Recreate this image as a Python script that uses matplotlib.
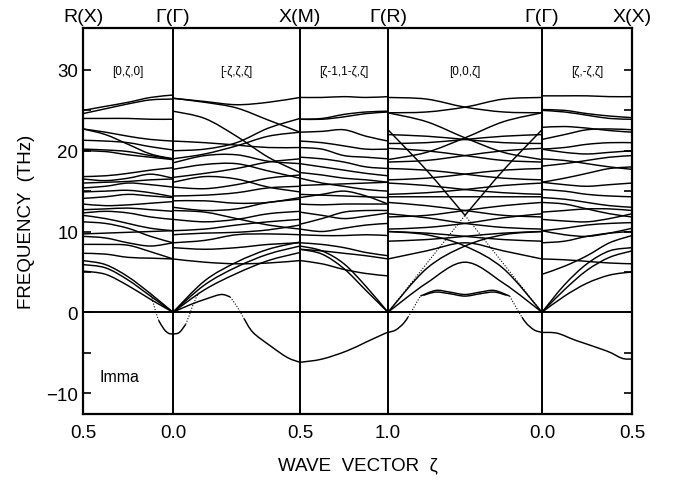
import numpy as np
import matplotlib
matplotlib.use("Agg")
import matplotlib.pyplot as plt
from matplotlib.path import Path
from matplotlib.patches import PathPatch
from matplotlib.transforms import blended_transform_factory

plt.rcParams['font.family'] = ['Liberation Sans', 'DejaVu Sans']

# high-symmetry points (x positions proportional to path length in the figure)
node_x = [0.0, 0.5, 1.2056, 1.6944, 2.55, 3.05]
node_top = ['R(X)', 'Γ(Γ)', 'X(M)', 'Γ(R)', 'Γ(Γ)', 'X(X)']
node_bottom = ['0.5', '0.0', '0.5', '1.0', '0.0', '0.5']
seg_names = ['[0,ζ,0]', '[-ζ,ζ,ζ]', '[ζ-1,1-ζ,ζ]', '[0,0,ζ]', '[ζ,-ζ,ζ]']

# sampling of each segment (fraction of segment length)
t_pts = [0.0, 0.25, 0.5, 0.75, 1.0]

# frequencies (THz) read at t_pts for each branch, segment by segment
seg1 = [
    [25.0, 25.5, 26.0, 26.6, 26.9], [24.6, 25.2, 25.8, 26.3, 26.4],
    [24.0, 24.0, 24.0, 23.9, 23.9], [22.7, 22.3, 21.8, 21.4, 21.2],
    [22.7, 22.0, 20.8, 19.6, 19.0], [21.3, 21.2, 21.0, 20.5, 20.1],
    [20.2, 20.1, 19.9, 19.4, 19.0], [20.0, 19.9, 19.5, 19.2, 18.9],
    [16.8, 16.9, 17.2, 17.6, 17.9], [16.5, 16.3, 16.6, 17.1, 16.6],
    [16.0, 16.1, 16.2, 16.4, 16.5], [15.4, 15.6, 16.0, 15.8, 15.5],
    [14.9, 15.0, 15.1, 14.8, 14.3], [14.1, 14.3, 14.6, 14.4, 14.2],
    [13.4, 13.2, 13.3, 13.5, 13.7], [12.7, 12.8, 12.9, 12.7, 12.5],
    [12.3, 12.5, 12.3, 11.8, 11.5], [12.0, 11.6, 11.0, 10.4, 10.1],
    [11.2, 11.0, 10.4, 9.4, 8.6], [9.7, 9.8, 9.9, 10.0, 10.1],
    [9.4, 9.2, 8.6, 8.2, 8.6], [8.4, 8.4, 8.3, 7.5, 6.6],
    [7.3, 7.2, 6.8, 6.7, 6.6], [6.4, 5.9, 4.4, 2.3, 0.0],
    [5.9, 5.5, 4.0, 2.0, 0.0], [5.1, 4.7, 3.3, 1.6, 0.0],
]
seg2 = [
    [26.5, 26.1, 25.7, 26.0, 26.6], [26.5, 26.0, 25.3, 23.8, 22.3],
    [24.9, 24.0, 21.8, 19.2, 17.3], [21.2, 21.0, 20.7, 20.4, 20.4],
    [20.0, 20.2, 21.0, 22.8, 24.0], [19.0, 19.6, 20.6, 21.8, 22.3],
    [18.5, 19.4, 19.5, 18.7, 18.4], [17.7, 18.3, 18.4, 17.5, 16.6],
    [16.7, 17.2, 17.8, 18.6, 19.0], [16.1, 16.8, 16.5, 15.5, 14.9],
    [15.5, 15.3, 15.8, 16.6, 17.0], [14.4, 14.5, 14.8, 15.4, 15.6],
    [13.8, 13.8, 13.5, 13.6, 14.2], [13.0, 12.6, 12.8, 13.6, 14.0],
    [12.6, 12.4, 11.6, 10.8, 10.3], [11.5, 11.2, 11.5, 12.2, 12.5],
    [10.1, 10.3, 10.8, 11.2, 11.5], [9.6, 9.8, 9.9, 10.2, 10.8],
    [8.6, 8.9, 9.6, 9.7, 9.6], [8.0, 7.8, 8.0, 8.4, 8.6],
    [6.6, 6.2, 6.0, 6.1, 6.4], [0.0, 3.9, 6.2, 7.8, 8.7],
    [0.0, 3.4, 5.6, 7.2, 8.2], [0.0, 2.8, 4.8, 6.4, 7.4],
]
seg3 = [
    [26.6, 26.6, 26.7, 26.6, 26.7], [23.9, 24.0, 24.5, 24.8, 24.9],
    [23.9, 23.9, 24.2, 24.6, 24.8], [22.3, 22.4, 22.6, 21.8, 21.2],
    [21.2, 21.0, 20.6, 20.2, 20.2], [20.4, 20.2, 19.4, 19.2, 19.0],
    [19.2, 19.0, 18.6, 18.0, 17.8], [18.4, 18.0, 17.6, 17.2, 16.9],
    [17.3, 17.0, 16.6, 16.4, 16.1], [16.6, 16.0, 15.6, 15.2, 15.0],
    [15.7, 15.8, 15.9, 16.0, 16.1], [14.6, 14.5, 14.4, 14.3, 14.2],
    [14.2, 14.6, 15.0, 14.4, 13.4], [13.4, 13.3, 13.4, 13.4, 13.4],
    [12.4, 12.0, 11.6, 11.9, 12.3], [10.9, 11.6, 12.4, 12.6, 12.6],
    [10.3, 10.0, 10.4, 10.8, 11.0], [9.6, 9.5, 9.5, 9.6, 9.5],
    [8.6, 8.4, 8.0, 7.4, 7.0], [7.8, 7.6, 7.3, 7.0, 6.6],
    [6.4, 6.0, 5.3, 4.8, 4.5], [8.2, 7.6, 6.0, 3.2, 0.0],
    [7.8, 7.2, 5.4, 2.7, 0.0],
]
seg4 = [
    [26.6, 26.4, 25.4, 24.8, 24.7], [24.7, 24.8, 25.4, 26.4, 26.6],
    [24.7, 23.6, 21.6, 19.8, 18.9], [18.9, 19.8, 21.6, 23.6, 24.7],
    [22.0, 21.8, 21.4, 21.0, 20.9], [20.9, 21.0, 21.4, 21.8, 22.0],
    [20.3, 20.0, 19.4, 18.8, 18.6], [18.6, 18.8, 19.4, 20.0, 20.3],
    [17.8, 17.6, 17.1, 16.6, 16.4], [16.4, 16.6, 17.1, 17.6, 17.8],
    [16.0, 15.7, 15.2, 14.8, 14.6], [14.6, 14.8, 15.2, 15.7, 16.0],
    [14.3, 14.3, 14.3, 14.3, 14.3], [13.6, 13.2, 12.6, 12.0, 11.8],
    [11.8, 12.0, 12.6, 13.2, 13.6], [12.2, 11.7, 11.0, 10.5, 10.3],
    [10.3, 10.5, 11.0, 11.7, 12.2], [10.0, 9.8, 9.4, 9.0, 8.8],
    [8.8, 9.0, 9.4, 9.8, 10.0], [6.6, 7.6, 8.6, 7.6, 6.6],
    [0.0, 3.6, 6.2, 3.6, 0.0], [0.0, 5.4, 8.2, 9.6, 10.0],
    [10.0, 9.6, 8.2, 5.4, 0.0],
]
seg5 = [
    [26.8, 26.8, 26.8, 26.7, 26.7], [25.1, 25.0, 24.6, 24.3, 24.1],
    [25.0, 24.8, 24.4, 24.0, 23.9], [22.9, 23.0, 22.8, 22.5, 22.3],
    [21.4, 22.0, 22.6, 22.7, 22.6], [20.2, 20.4, 20.8, 21.0, 21.0],
    [20.2, 19.8, 19.6, 19.8, 20.0], [19.0, 18.8, 18.4, 18.0, 17.7],
    [18.1, 18.4, 18.8, 19.2, 19.4], [16.1, 16.6, 17.2, 17.8, 18.0],
    [16.1, 15.8, 15.6, 15.8, 16.0], [15.2, 15.0, 14.6, 14.4, 14.3],
    [14.2, 14.0, 13.6, 13.2, 13.0], [13.6, 13.4, 12.8, 12.2, 11.8],
    [12.4, 12.6, 12.8, 12.8, 12.6], [11.5, 11.3, 11.2, 11.6, 12.2],
    [10.1, 10.4, 10.8, 11.0, 11.1], [10.1, 9.6, 9.4, 9.8, 10.4],
    [8.6, 8.8, 9.4, 9.8, 10.0], [6.6, 6.5, 6.3, 6.1, 6.0],
    [4.7, 5.7, 7.0, 8.6, 9.5], [0.0, 3.4, 6.0, 7.6, 8.0],
    [0.0, 2.8, 5.2, 6.8, 7.6], [0.0, 2.0, 3.6, 4.6, 5.0],
]
bands = [seg1, seg2, seg3, seg4, seg5]

# soft (unstable) modes and weak branches: (segment, t values, freq values, dotted?)
soft_modes = [
    (0, [0.75, 0.78, 0.81, 0.84], [2.4, 1.2, 0.0, -1.0], True),
    (0, [0.84, 0.90, 0.95, 1.0], [-1.0, -2.1, -2.6, -2.7], False),
    (1, [0.0, 0.05, 0.10], [-2.7, -2.5, -1.5], False),
    (1, [0.10, 0.13, 0.16, 0.20], [-1.5, -0.3, 1.0, 2.4], True),
    (1, [0.0, 0.13, 0.27, 0.38, 0.45], [0.0, 0.9, 1.7, 2.2, 1.9], False),
    (1, [0.45, 0.50, 0.53, 0.56], [1.9, 0.8, 0.0, -0.8], True),
    (1, [0.56, 0.63, 0.77, 0.90, 1.0], [-0.8, -2.5, -4.2, -5.6, -6.2], False),
    (2, [0.0, 0.25, 0.53, 0.75, 0.97, 1.0], [-6.2, -5.8, -4.8, -3.7, -2.6, -2.5], False),
    (3, [0.0, 0.05, 0.10, 0.13], [-2.5, -2.2, -1.4, -0.6], False),
    (3, [0.13, 0.15, 0.18, 0.21], [-0.6, 0.0, 1.0, 2.0], True),
    (3, [0.21, 0.31, 0.40, 0.50, 0.60, 0.69, 0.79], [2.0, 2.7, 2.5, 2.2, 2.5, 2.7, 2.0], False),
    (3, [0.23, 0.31, 0.40, 0.50, 0.60, 0.69, 0.77], [2.1, 2.5, 2.3, 2.0, 2.3, 2.5, 2.1], False),
    (3, [0.79, 0.82, 0.85, 0.87], [2.0, 1.0, 0.0, -0.6], True),
    (3, [0.87, 0.90, 0.95, 1.0], [-0.6, -1.4, -2.2, -2.5], False),
    (3, [0.0, 0.25, 0.50], [0.0, 6.0, 12.0], True),
    (3, [0.50, 0.75, 1.0], [12.0, 17.6, 22.6], False),
    (3, [0.50, 0.75, 1.0], [12.0, 6.0, 0.0], True),
    (3, [0.0, 0.25, 0.50], [22.6, 17.6, 12.0], False),
    (4, [0.0, 0.17, 0.38, 0.72, 0.89, 1.0], [-2.5, -2.6, -3.5, -4.8, -5.7, -5.8], False),
]


def seg_x(i, t):
    x0, x1 = node_x[i], node_x[i + 1]
    return [x0 + tt * (x1 - x0) for tt in t]


def smooth_path(xs, ys):
    # Catmull-Rom through the read points, drawn as cubic Bezier pieces
    p = np.column_stack([xs, ys])
    p = np.vstack([p[0], p, p[-1]])
    verts = [p[1]]
    codes = [Path.MOVETO]
    for k in range(1, len(p) - 2):
        c1 = p[k] + (p[k + 1] - p[k - 1]) / 6
        c2 = p[k + 1] - (p[k + 2] - p[k]) / 6
        verts += [c1, c2, p[k + 1]]
        codes += [Path.CURVE4] * 3
    return Path(verts, codes)


fig = plt.figure(figsize=(6.77, 4.81), dpi=100)
ax = fig.add_axes([0.1226, 0.1372, 0.8109, 0.8025])

for i, seg in enumerate(bands):
    xs = seg_x(i, t_pts)
    for ys in seg:
        ax.add_patch(PathPatch(smooth_path(xs, ys), fill=False, lw=1.05, ec='black'))

for i, t, f, dotted in soft_modes:
    ax.add_patch(PathPatch(smooth_path(seg_x(i, t), f), fill=False,
                           lw=0.8 if dotted else 1.05, ec='black',
                           ls=(0, (1, 1.5)) if dotted else '-'))

for x in node_x[1:-1]:
    ax.axvline(x, color='black', lw=1.4)
ax.axhline(0, color='black', lw=1.4)

ax.set_xlim(node_x[0], node_x[-1])
ax.set_ylim(-12.6, 35.2)
ax.set_xticks(node_x)
ax.set_xticklabels(node_bottom, fontsize=13.5)
ax.set_yticks([-10, 0, 10, 20, 30])
ax.set_yticks([-5, 5, 15, 25], minor=True)
ax.tick_params(axis='y', which='both', direction='in', left=True, right=True,
               length=6, width=1.2, labelsize=13.5)
ax.tick_params(axis='x', direction='in', length=0, pad=7)
for s in ax.spines.values():
    s.set_linewidth(1.6)

tr = blended_transform_factory(ax.transData, ax.transAxes)
for x, lab in zip(node_x, node_top):
    ax.text(x, 1.008, lab, transform=tr, ha='center', va='bottom', fontsize=14)
for i, name in enumerate(seg_names):
    ax.text((node_x[i] + node_x[i + 1]) / 2, 29.9, name, ha='center', va='center', fontsize=8.5)
ax.text(0.09, -7.9, 'Imma', ha='left', va='center', fontsize=11.5)

ax.set_ylabel('FREQUENCY  (THz)', fontsize=13.5, labelpad=8)
ax.set_xlabel('WAVE  VECTOR  ζ', fontsize=13.5, labelpad=11)

fig.savefig('out.png', dpi=100)
